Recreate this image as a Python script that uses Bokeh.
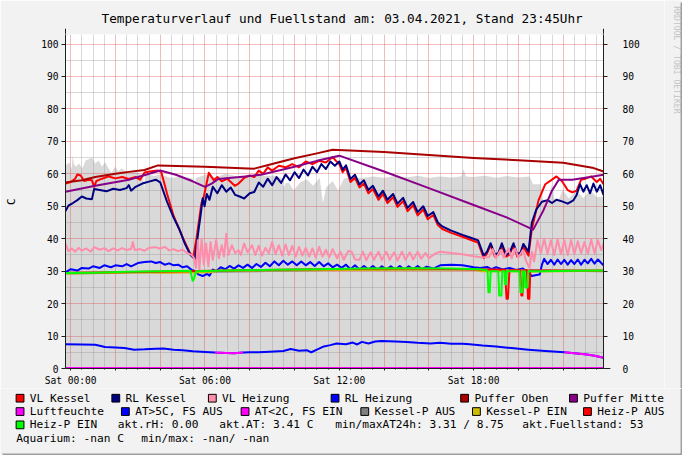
import math
from bokeh.plotting import figure
from bokeh.models import Range1d, LinearAxis, FixedTicker, Arrow, NormalHead, Title
from bokeh.layouts import column, row
from bokeh.embed import file_html
from bokeh.resources import INLINE
from bokeh.core.properties import value

# ---------------- data (hours since Sat 00:00, degrees C) ----------------
title_text = "Temperaturverlauf und Fuellstand am: 03.04.2021, Stand 23:45Uhr"
x_tick_hours = [0, 6, 12, 18]
x_tick_labels = ["Sat 00:00", "Sat 06:00", "Sat 12:00", "Sat 18:00"]
y_ticks = list(range(0, 101, 10))

fuellstand = [(-0.23,62.6),(-0.06,63.6),(0.05,61.5),(0.09,65.7),(0.15,63.0),(0.23,62.2),(0.38,63.2),(0.52,61.7),
    (0.67,64.1),(0.82,64.6),(0.96,65.0),(1.1,63.2),(1.25,64.1),(1.4,62.2),(1.54,63.6),(1.69,61.7),(1.83,60.3),
    (1.98,62.2),(2.13,60.8),(2.27,61.7),(2.56,60.3),(2.85,60.8),(3.14,59.8),(3.24,59.5),(3.28,54.5),(3.32,59.5),
    (3.42,59.8),(3.71,59.3),(4.0,59.8),(4.44,58.8),(4.88,59.0),(5.31,58.8),(5.45,58.5),(5.53,56.3),(5.6,58.8),
    (5.75,59.0),(6.03,59.8),(6.46,58.8),(6.9,60.0),(7.34,59.3),(7.77,58.8),(8.21,59.8),(8.65,59.3),(9.08,59.5),
    (9.4,58.8),(9.52,55.8),(9.6,57.0),(9.74,57.3),(9.96,54.9),(10.25,57.3),(10.54,58.3),(10.83,56.3),(11.12,58.8),
    (11.27,51.0),(11.41,55.8),(11.7,57.8),(11.95,54.8),(12.2,58.5),(12.5,59.0),(13.0,58.6),(13.5,59.2),(14.0,58.8),
    (14.5,59.3),(15.0,58.9),(15.5,59.4),(16.0,58.7),(16.5,59.2),(17.0,58.9),(17.45,59.2),(17.55,61.5),(17.65,59.2),
    (18.0,59.0),(18.5,59.4),(19.0,58.8),(19.5,59.3),(20.0,58.9),(20.5,59.2),(20.65,56.8),(21.0,56.8),(21.1,52.0),
    (21.3,51.9),(21.5,56.8),(21.6,52.5),(21.8,51.9),(21.97,55.0),(22.25,52.5),(22.6,54.8),(22.9,52.5),(23.2,55.0),
    (23.5,52.8),(23.8,53.0)]

vl_kessel = [(-0.23,57.0),(0.0,57.5),(0.2,58.5),(0.3,59.8),(0.45,59.5),(0.6,57.8),(0.8,58.2),(0.95,58.0),(1.05,56.0),
    (1.15,57.8),(1.4,58.5),(1.7,59.2),(2.0,58.6),(2.3,59.0),(2.6,58.4),(2.9,59.0),(3.1,58.2),(3.3,60.4),(3.6,60.8),
    (3.9,61.0),(4.05,60.5),(4.31,53.8),(4.6,47.0),(5.03,40.0),(5.3,36.0),(5.47,34.2),(5.62,40.0),(5.84,50.9),
    (5.95,53.0),(6.17,60.3),(6.4,58.0),(6.55,59.0),(6.75,57.7),(7.0,58.5),(7.33,56.3),(7.5,57.0),(7.76,58.8),
    (8.0,59.5),(8.2,59.0),(8.4,61.0),(8.6,60.0),(8.8,62.0),(9.0,61.0),(9.3,62.5),(9.6,62.0),(9.9,63.0),(10.2,62.0),
    (10.5,63.8),(10.8,63.0),(11.1,64.0),(11.4,63.5),(11.7,65.2),(11.85,64.0),(12.0,63.0),(12.15,60.5),(12.3,61.8),
    (12.5,57.5),(12.7,58.8),(12.9,55.8),(13.1,57.0),(13.3,54.0),(13.5,55.3),(13.75,52.0),(13.95,53.8),(14.15,51.0),
    (14.4,52.8),(14.6,49.8),(14.85,51.6),(15.05,48.5),(15.3,50.3),(15.5,47.2),(15.75,49.0),(15.95,46.0),(16.2,47.3),
    (16.4,44.2),(16.6,43.0),(17.0,41.8),(17.5,40.6),(18.0,39.3),(18.2,38.8),(18.45,34.0),(18.6,35.5),(18.76,38.0),
    (18.95,34.5),(19.1,35.0),(19.26,37.8),(19.45,34.5),(19.6,35.0),(19.78,38.0),(19.95,34.5),(20.1,35.0),(20.22,37.5),
    (20.45,34.8),(20.6,43.0),(20.9,51.9),(21.2,56.8),(21.5,58.2),(21.7,59.2),(21.95,57.7),(22.2,55.0),(22.4,54.3),
    (22.6,54.8),(22.8,58.2),(23.0,58.5),(23.25,59.2),(23.5,57.5),(23.65,58.5),(23.8,56.8)]

rl_kessel = [(-0.23,48.5),(-0.1,50.2),(0.1,51.0),(0.3,51.9),(0.5,53.0),(0.7,52.4),(0.95,52.2),(1.05,55.3),(1.3,55.0),
    (1.6,54.6),(1.9,55.4),(2.2,55.0),(2.5,55.6),(2.6,56.5),(2.7,54.8),(2.9,56.0),(3.2,57.0),(3.5,57.6),(3.8,58.2),
    (4.0,57.4),(4.3,51.5),(4.6,46.5),(4.85,43.0),(5.1,38.5),(5.35,35.0),(5.55,33.8),(5.7,42.0),(5.8,47.0),(5.9,52.5),
    (5.98,50.0),(6.08,53.8),(6.2,52.0),(6.35,56.0),(6.55,54.0),(6.75,56.5),(6.95,54.5),(7.15,55.8),(7.35,53.5),
    (7.55,53.0),(7.75,52.4),(8.0,54.0),(8.2,54.4),(8.4,57.3),(8.6,56.0),(8.8,58.5),(9.0,56.5),(9.2,59.0),(9.4,57.2),
    (9.6,59.8),(9.8,58.0),(10.0,60.5),(10.2,58.7),(10.4,61.3),(10.6,59.5),(10.8,62.2),(11.0,60.5),(11.2,63.0),
    (11.4,61.5),(11.6,63.8),(11.8,62.5),(12.0,63.8),(12.15,61.3),(12.3,62.6),(12.5,58.4),(12.7,59.7),(12.9,56.7),
    (13.1,58.0),(13.3,55.0),(13.5,56.3),(13.75,53.0),(13.95,54.8),(14.15,52.0),(14.4,53.8),(14.6,50.8),(14.85,52.6),
    (15.05,49.5),(15.3,51.3),(15.5,48.2),(15.75,50.0),(15.95,47.0),(16.2,48.2),(16.4,45.0),(16.6,43.8),(17.0,42.5),
    (17.5,41.2),(18.0,40.0),(18.2,39.5),(18.45,34.8),(18.6,36.0),(18.76,38.6),(18.95,35.2),(19.1,35.5),(19.26,38.6),
    (19.45,35.0),(19.6,35.6),(19.78,38.6),(19.95,35.2),(20.1,35.8),(20.22,38.4),(20.45,36.0),(20.6,45.0),(20.8,49.0),
    (21.05,51.4),(21.3,51.9),(21.5,51.0),(21.7,52.0),(21.95,51.5),(22.2,50.8),(22.45,51.8),(22.6,53.5),(22.75,56.8),
    (22.9,54.5),(23.05,56.5),(23.2,54.0),(23.35,57.0),(23.5,54.5),(23.65,56.5),(23.8,53.5)]

vl_heizung = [(-0.23,38.5),(-0.1,36.2),(0.05,37.0),(0.2,36.0),(0.35,37.2),(0.5,36.3),(0.7,37.0),(0.9,36.0),(1.05,37.4),
    (1.3,36.6),(1.5,37.1),(1.7,36.2),(1.9,37.0),(2.1,36.4),(2.3,37.1),(2.5,36.5),(2.7,36.8),(2.78,39.0),(2.86,36.5),
    (3.1,36.8),(3.3,36.3),(3.5,37.2),(3.8,37.4),(4.0,36.9),(4.2,37.5),(4.4,36.4),(4.6,36.8),(4.8,36.2),(5.0,36.6),
    (5.2,35.6),(5.4,35.0),(5.5,34.2),(5.6,31.0),(5.68,39.5),(5.75,30.5),(5.85,40.0),(5.95,32.0),(6.05,38.5),
    (6.15,31.5),(6.25,39.0),(6.35,33.5),(6.5,39.6),(6.62,34.0),(6.75,38.0),(6.85,34.5),(6.95,41.5),(7.05,35.0),
    (7.2,38.0),(7.35,35.5),(7.5,36.5),(7.6,35.0),(7.75,38.5),(7.9,35.8),(8.1,38.0),(8.25,35.0),(8.4,37.8),(8.55,34.8),
    (8.7,37.2),(8.85,35.5),(9.0,39.0),(9.15,35.2),(9.3,38.0),(9.45,34.8),(9.6,38.2),(9.75,35.0),(9.9,37.8),(10.05,34.5),
    (10.2,37.5),(10.35,34.8),(10.5,37.2),(10.65,34.5),(10.8,37.0),(10.95,34.2),(11.1,37.5),(11.25,34.5),(11.4,36.6),
    (11.55,34.3),(11.7,36.8),(11.9,34.0),(12.05,36.0),(12.2,33.5),(12.4,36.2),(12.55,36.0),(12.7,33.6),(12.9,33.5),
    (13.05,36.0),(13.2,33.4),(13.4,35.8),(13.55,33.5),(13.75,36.0),(13.9,33.4),(14.1,36.0),(14.25,33.5),(14.45,35.8),
    (14.6,33.3),(14.8,36.0),(14.95,33.5),(15.15,35.8),(15.3,33.6),(15.5,36.0),(15.65,33.8),(15.85,35.6),(16.0,34.0),
    (16.3,35.5),(16.5,36.0),(17.0,35.6),(17.5,35.2),(18.0,34.6),(18.4,34.2),(18.7,34.4),(18.85,36.8),(19.0,34.0),
    (19.2,36.5),(19.35,34.2),(19.55,37.0),(19.7,34.0),(19.85,37.0),(20.0,34.2),(20.2,36.5),(20.35,33.0),(20.5,31.0),
    (20.6,36.0),(20.7,33.0),(20.85,39.5),(21.0,35.5),(21.15,40.0),(21.3,35.2),(21.45,39.5),(21.6,35.0),(21.75,39.8),
    (21.9,35.2),(22.05,39.5),(22.2,35.0),(22.35,39.6),(22.5,35.2),(22.65,39.2),(22.8,35.5),(22.95,39.0),(23.1,35.3),
    (23.25,39.8),(23.4,35.4),(23.55,39.5),(23.7,36.5),(23.8,38.5)]

rl_heizung = [(-0.23,29.6),(0.0,30.6),(0.3,30.2),(0.5,31.0),(0.8,30.8),(1.0,31.5),(1.3,31.0),(1.5,31.8),(1.8,31.2),
    (2.0,31.8),(2.3,31.5),(2.5,32.2),(2.7,31.5),(3.0,32.5),(3.3,32.8),(3.6,33.0),(3.8,32.5),(4.0,32.8),(4.2,32.0),
    (4.4,32.4),(4.6,31.8),(4.8,32.0),(5.0,31.2),(5.2,31.5),(5.4,30.4),(5.6,30.0),(5.7,29.0),(5.9,28.5),(6.1,29.2),
    (6.2,28.6),(6.35,30.5),(6.5,30.0),(6.7,31.2),(6.9,30.6),(7.1,31.6),(7.3,30.8),(7.5,31.8),(7.7,31.0),(7.9,32.0),
    (8.1,31.0),(8.3,32.2),(8.5,31.3),(8.7,32.6),(8.9,31.5),(9.1,33.0),(9.3,31.8),(9.5,33.2),(9.7,32.0),(9.9,33.0),
    (10.1,31.8),(10.3,33.0),(10.5,31.8),(10.7,32.8),(10.9,31.6),(11.1,32.8),(11.3,31.5),(11.5,32.4),(11.7,31.2),
    (11.9,32.0),(12.1,31.0),(12.3,32.0),(12.5,30.6),(12.7,31.8),(12.9,30.5),(13.1,31.6),(13.3,30.5),(13.5,31.6),
    (13.7,30.4),(13.9,31.5),(14.1,30.4),(14.3,31.5),(14.5,30.5),(14.7,31.6),(14.9,30.5),(15.1,31.5),(15.3,30.6),
    (15.5,31.6),(15.7,30.6),(15.9,31.4),(16.2,30.8),(16.5,31.8),(17.0,32.0),(17.5,31.8),(18.0,31.2),(18.3,31.0),
    (18.6,31.3),(18.8,30.6),(19.0,31.2),(19.3,30.5),(19.6,31.0),(19.9,30.4),(20.2,30.8),(20.45,29.5),(20.6,28.5),
    (20.8,28.8),(20.95,29.0),(21.05,32.0),(21.15,33.8),(21.3,32.2),(21.45,33.5),(21.6,32.0),(21.75,33.6),(21.9,32.2),
    (22.05,33.5),(22.2,32.0),(22.35,33.4),(22.5,32.2),(22.65,33.6),(22.8,32.0),(22.95,33.5),(23.1,32.4),(23.25,33.8),
    (23.4,32.3),(23.55,33.6),(23.7,32.5),(23.8,31.8)]

puffer_oben = [(-0.23,57.3),(0.5,58.0),(1.1,59.0),(2.0,60.0),(2.6,60.6),(3.3,61.2),(3.9,62.6),(6.0,62.2),(8.2,61.6),
    (9.0,63.0),(10.0,64.8),(11.0,66.3),(11.7,67.4),(14.0,66.7),(16.0,65.8),(18.0,64.9),(20.0,64.2),(22.0,63.4),
    (23.3,61.9),(23.8,60.7)]

puffer_mitte = [(-0.23,54.5),(1.1,56.3),(2.6,58.2),(4.0,61.0),(4.7,59.7),(5.45,57.7),(6.0,56.0),(6.3,57.0),(6.6,58.4),
    (7.8,59.2),(8.5,59.7),(10.0,62.2),(11.0,64.0),(12.0,65.6),(14.0,60.7),(16.0,55.6),(18.0,50.4),(19.5,46.5),
    (20.66,42.8),(21.1,48.5),(21.5,54.8),(21.8,58.2),(22.4,58.2),(23.2,59.0),(23.8,59.7)]

luftfeuchte = [(-0.23,0.15),(23.8,0.15)]

aussentemp = [(-0.23,7.45),(0.5,7.4),(1.09,7.3),(1.3,7.0),(1.53,6.6),(2.0,6.5),(2.4,6.3),(2.84,5.8),(3.3,5.9),(3.8,6.1),
    (4.15,6.2),(4.6,5.8),(5.0,5.6),(5.46,5.3),(6.0,5.1),(6.45,4.9),(6.94,4.8),(7.3,4.7),(7.7,4.9),(8.0,5.0),(8.38,5.0),
    (8.9,5.2),(9.5,5.4),(9.83,6.0),(10.2,5.5),(10.57,5.6),(10.75,5.0),(11.0,5.8),(11.31,6.8),(11.6,7.2),(11.88,7.7),
    (12.3,7.5),(12.6,8.0),(12.8,7.4),(13.01,8.2),(13.3,7.7),(13.6,8.3),(13.89,8.5),(14.5,8.3),(15.0,8.2),(15.5,7.9),
    (16.07,7.7),(16.5,7.9),(17.0,7.6),(17.5,7.6),(17.82,7.5),(18.4,7.1),(19.0,6.8),(19.7,6.3),(20.44,5.8),(21.2,5.4),
    (22.05,5.0),(22.5,4.7),(23.06,4.3),(23.4,3.9),(23.8,3.3)]
at_low_windows = [(6.45, 7.7), (22.05, 23.8)]   # periods drawn as "AT<2C, FS EIN"

kessel_p_aus = [(-0.23,29.3),(3.5,29.7),(6.3,29.8),(12.0,30.4),(18.0,30.5),(23.8,30.0)]
kessel_p_ein = [(-0.23,29.3),(3.5,29.7),(4.0,29.5),(6.3,29.7),(6.6,30.1),(18.0,30.6),(18.3,30.0),(20.6,29.9),
    (20.9,29.9),(23.8,30.1)]
heiz_p_aus = [(-0.23,29.4),(5.0,30.0),(10.0,30.5),(15.0,30.8),(19.4,30.4),(19.47,21.5),(19.53,21.5),(19.6,30.3),
    (20.08,30.3),(20.13,22.5),(20.18,22.5),(20.22,30.3),(20.38,30.3),(20.43,21.5),(20.49,21.5),(20.53,30.2),(23.8,30.2)]
heiz_p_ein = [(-0.23,29.4),(1.0,29.5),(2.5,29.8),(4.0,30.0),(5.35,30.1),(5.45,27.0),(5.52,27.8),(5.6,30.0),(7.0,30.2),
    (9.0,30.4),(11.0,30.6),(13.0,30.8),(15.0,30.9),(17.0,30.8),(18.3,30.6),(18.62,30.2),(18.66,23.5),(18.72,23.5),
    (18.76,30.0),(19.1,30.0),(19.14,22.5),(19.24,22.5),(19.28,30.0),(19.38,30.0),(19.41,26.0),(19.45,26.0),
    (19.48,30.0),(20.05,30.0),(20.09,23.5),(20.17,23.5),(20.21,30.0),(20.28,30.0),(20.31,25.0),(20.4,25.0),
    (20.44,30.0),(21.0,30.0),(22.5,30.1),(23.8,30.2)]

legend_names = ["VL Kessel", "RL Kessel", "VL Heizung", "RL Heizung", "Puffer Oben", "Puffer Mitte",
                "Luftfeuchte", "AT>5C, FS AUS", "AT<2C, FS EIN", "Kessel-P AUS", "Kessel-P EIN", "Heiz-P AUS",
                "Heiz-P EIN"]
legend_colors = ["#FF0000", "#000080", "#FF8CAA", "#0000FF", "#AA0000", "#880088",
                 "#FF00FF", "#0000FF", "#FF00FF", "#808080", "#CCBB00", "#FF0000", "#00FF00"]
info_texts = ["akt.rH: 0.00", "akt.AT: 3.41 C", "min/maxAT24h: 3.31 / 8.75", "akt.Fuellstand:   53"]
aquarium_texts = ["Aquarium: -nan C", "min/max: -nan/ -nan"]

# ---------------- styling ----------------
MONO = "DejaVu Sans Mono"
BG = "#F2F2F2"
SHADE = "#9E9E9E"
AXIS = "#1F1F1F"
ARROW = "#801F1F"
X0, X1 = -0.23, 23.8
YTOP = 350 / 3.4
SX, SY = 682 / 698, 455 / 471      # page is drawn as the reference scaled to 682x455


def hx(s):
    return [a for a, _ in s]


def vy(s):
    return [b for _, b in s]


title = Title(text=title_text, align="left", offset=36, standoff=17, vertical_align="bottom",
              text_font=MONO, text_font_size="12.7px", text_font_style="normal", text_color="black")

p = figure(width=664, height=388, x_range=Range1d(X0, X1), y_range=Range1d(0, YTOP), title=title,
           output_backend="svg", toolbar_location=None,
           min_border_left=65, min_border_right=61, min_border_top=32, min_border_bottom=18,
           background_fill_color="white", border_fill_color=BG, outline_line_color=None)

major_x = list(range(0, 24, 2))
minor_x = [k / 2 for k in range(0, 48) if k % 4 != 0]
overrides = {t: "" for t in major_x}
overrides.update(dict(zip(x_tick_hours, x_tick_labels)))
xa = p.xaxis[0]
xa.ticker = FixedTicker(ticks=major_x, minor_ticks=minor_x)
xa.major_label_overrides = overrides
xa.major_tick_out = 2
xa.major_tick_in = 0
xa.minor_tick_out = 1
xa.minor_tick_in = 0
xa.major_label_standoff = 4

minor_y = list(range(5, 101, 10))
ya = p.yaxis[0]
ya.ticker = FixedTicker(ticks=y_ticks, minor_ticks=minor_y)
ra = LinearAxis(ticker=FixedTicker(ticks=y_ticks, minor_ticks=minor_y))
p.add_layout(ra, "right")
for ax in (ya, ra):
    ax.major_tick_out = 4
    ax.major_tick_in = 0
    ax.minor_tick_out = 0
    ax.minor_tick_in = 0
ya.major_label_standoff = 3
ra.major_label_standoff = 15
ya.axis_label = "C"
ya.axis_label_text_font = MONO
ya.axis_label_text_font_size = "11.2px"
ya.axis_label_text_font_style = "normal"
ya.axis_label_text_color = "black"
ya.axis_label_standoff = 20
for ax in (xa, ya, ra):
    ax.axis_line_color = AXIS
    ax.major_tick_line_color = AXIS
    ax.minor_tick_line_color = AXIS
    ax.major_label_text_font = MONO
    ax.major_label_text_font_size = "9.6px"
    ax.major_label_text_color = "black"

for g in (p.xgrid[0], p.ygrid[0]):
    g.grid_line_color = "#DE4F4F"
    g.grid_line_alpha = 0.38
    g.minor_grid_line_color = "#8F8F8F"
    g.minor_grid_line_alpha = 0.35
    g.level = "underlay"

# level area (Fuellstand)
p.varea(x=hx(fuellstand), y1=0, y2=vy(fuellstand), fill_color="#D9D9D9", level="image")


def ln(series, color, width=2.0):
    p.line(x=hx(series), y=vy(series), line_color=color, line_width=width, line_join="round")


ln(vl_kessel, "#FF0000")
ln(rl_kessel, "#000080")
ln(vl_heizung, "#FF8CAA")
ln(rl_heizung, "#0000FF")
ln(puffer_oben, "#AA0000")
ln(puffer_mitte, "#880088")
ln(luftfeuchte, "#FF00FF")
ln(aussentemp, "#0000FF")
for lo, hi in at_low_windows:
    seg = [pt for pt in aussentemp if lo <= pt[0] <= hi]
    ln(seg, "#FF00FF")
ln(kessel_p_aus, "#808080")
ln(kessel_p_ein, "#CCBB00")
ln(heiz_p_aus, "#FF0000")
ln(heiz_p_ein, "#00FF00")

# axis arrows (rrdtool style)
head = dict(size=5, fill_color=ARROW, line_color=ARROW)
p.add_layout(Arrow(x_start=X1, y_start=0, x_end=X1 + 7 / 22.9, y_end=0, line_color=AXIS, line_width=1,
                   end=NormalHead(**head)))
for xx in (X0, X1):
    p.add_layout(Arrow(x_start=xx, y_start=YTOP, x_end=xx, y_end=YTOP + 6 / 3.4, line_color=AXIS, line_width=1,
                       end=NormalHead(**head)))

# ---------------- side strip (watermark + frame shade) ----------------
s = figure(width=18, height=388, x_range=Range1d(664 / SX, 698), y_range=Range1d(388 / SY, 0), x_axis_type=None,
           y_axis_type=None, title=None, output_backend="svg", toolbar_location=None, min_border=0,
           background_fill_color=BG, border_fill_color=BG, outline_line_color=None)
s.text(x=[692.5], y=[6], text=["RRDTOOL / TOBI OETIKER"], angle=-math.pi / 2, text_font=value(MONO),
       text_font_size="8.1px", text_color="#C4C4C4", text_align="left", text_baseline="middle")
s.quad(left=[696], right=[698], top=[2], bottom=[388 / SY], fill_color=SHADE, line_color=None)

# ---------------- legend strip ----------------
lg = figure(width=682, height=67, x_range=Range1d(0, 698), y_range=Range1d(471, 388 / SY), x_axis_type=None,
            y_axis_type=None, title=None, output_backend="svg", toolbar_location=None, min_border=0,
            background_fill_color=BG, border_fill_color=BG, outline_line_color=None)
lg.quad(left=[696, 2], right=[698, 698], top=[388 / SY, 469], bottom=[471, 471], fill_color=SHADE, line_color=None)
row_y = [411.7, 425.5, 439.3, 453.1]
legend_text_x = [30.0, 128.0, 226.8, 352.4, 485.0, 596.4, 30.0, 137.8, 260.3, 382.8, 497.1, 610.7, 30.0]
legend_row = [0] * 6 + [1] * 6 + [2]
ly = [row_y[r] for r in legend_row]
lg.quad(left=[x - 14 for x in legend_text_x], right=[x - 6 for x in legend_text_x],
        top=[y - 4 for y in ly], bottom=[y + 4 for y in ly], fill_color=legend_colors,
        line_color="black", line_width=1)
lg.text(x=legend_text_x, y=ly, text=legend_names, text_font=value(MONO), text_font_size="11.2px",
        text_align="left", text_baseline="middle", text_color="black")
lg.text(x=[120.0, 223.8, 342.6, 534.0], y=[row_y[2]] * 4, text=info_texts, text_font=value(MONO),
        text_font_size="11.2px", text_align="left", text_baseline="middle", text_color="black")
lg.text(x=[16.0, 144.0], y=[row_y[3]] * 2, text=aquarium_texts, text_font=value(MONO),
        text_font_size="11.2px", text_align="left", text_baseline="middle", text_color="black")

layout = column(row(column(p), s), lg)

with open("out.html", "w") as f:
    f.write(file_html(layout, INLINE))
